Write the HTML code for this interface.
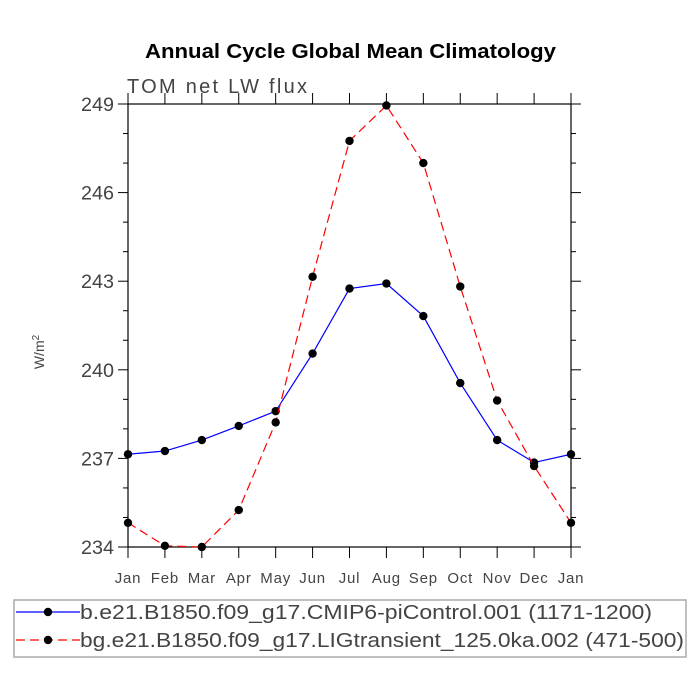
<!DOCTYPE html>
<html><head><meta charset="utf-8"><style>body{margin:0;background:#fff}svg{display:block}</style></head>
<body>
<svg id="c" width="700" height="700" xmlns="http://www.w3.org/2000/svg" font-family="Liberation Sans, sans-serif"></svg>
<script>
const months = ["Jan","Feb","Mar","Apr","May","Jun","Jul","Aug","Sep","Oct","Nov","Dec","Jan"];
const yTicks = [234,237,240,243,246,249];
const piControl = [237.14,237.25,237.62,238.1,238.6,240.55,242.75,242.92,241.82,239.55,237.62,236.86,237.14];
const ligTransient = [234.82,234.04,234.0,235.25,238.22,243.15,247.75,248.95,247.0,242.82,238.96,236.74,234.82];
const legendLabels = ["b.e21.B1850.f09_g17.CMIP6-piControl.001 (1171-1200)","bg.e21.B1850.f09_g17.LIGtransient_125.0ka.002 (471-500)"];
const legendWidths = [572,604];

const svg = document.getElementById('c');
const NS = "http://www.w3.org/2000/svg";
const X0=128, X1=571, Y0=547, Y1=104, YMIN=234, YMAX=249;
const xs = i => X0 + (X1-X0)*i/(months.length-1);
const ys = v => Y0 - (v-YMIN)/(YMAX-YMIN)*(Y0-Y1);
function mk(tag, attrs, parent){const e=document.createElementNS(NS,tag);for(const k in attrs)e.setAttribute(k,attrs[k]);(parent||svg).appendChild(e);return e;}

let t = mk('text',{x:145,y:58,'font-size':20,'font-weight':'bold',fill:'#000',textLength:411,lengthAdjust:'spacingAndGlyphs'});
t.textContent='Annual Cycle Global Mean Climatology';


t = mk('text',{x:127,y:93,'font-size':20,fill:'#444',textLength:180,lengthAdjust:'spacing'});
t.textContent='TOM  net  LW  flux';



let frame = mk('rect',{x:X0,y:Y1,width:X1-X0,height:Y0-Y1,fill:'none',stroke:'#000','stroke-width':1.2});



yTicks.forEach(v=>{
  const y=ys(v);
  mk('line',{x1:X0-10,x2:X0,y1:y,y2:y,stroke:'#000'});
  mk('line',{x1:X1,x2:X1+10,y1:y,y2:y,stroke:'#000'});
  const l=mk('text',{x:X0-14,y:y+7,'text-anchor':'end','font-size':19,fill:'#444',textLength:33,lengthAdjust:'spacingAndGlyphs'});
  l.textContent=v;
  
  
});
for(let v=YMIN; v<=YMAX; v+=1){ if((v-YMIN)%3===0) continue; const y=ys(v);
  mk('line',{x1:X0-5,x2:X0,y1:y,y2:y,stroke:'#000'});
  mk('line',{x1:X1,x2:X1+5,y1:y,y2:y,stroke:'#000'});
}
months.forEach((m,i)=>{
  const x=xs(i);
  mk('line',{x1:x,x2:x,y1:Y0,y2:Y0+11,stroke:'#000'});
  mk('line',{x1:x,x2:x,y1:Y1-11,y2:Y1,stroke:'#000'});
  const l=mk('text',{x:x,y:583,'text-anchor':'middle','font-size':15,fill:'#444','letter-spacing':'0.8'});
  l.textContent=m;
  
  
});
t = mk('text',{x:0,y:0,'font-size':14,fill:'#444',transform:'translate(44,352) rotate(-90)','text-anchor':'middle'});
t.innerHTML='W/m<tspan font-size="10" dy="-5">2</tspan>';



function series(vals,color,dash,name){
  const g=mk('g',{});
  
  
  mk('polyline',{points:vals.map((v,i)=>xs(i)+','+ys(v)).join(' '),fill:'none',stroke:color,'stroke-width':1.2,'stroke-dasharray':dash},g);
  vals.forEach((v,i)=>{const c=mk('circle',{cx:xs(i),cy:ys(v),r:4.2,fill:'#000'},g);
    
    });
}
series(piControl,'#0000ff','none','series-picontrol');
series(ligTransient,'#ff0000','9 5','series-ligtransient');

const lg=mk('g',{});


mk('rect',{x:14,y:600,width:672,height:57,fill:'#fff',stroke:'#aaa','stroke-width':1.5},lg);
[['#0000ff','none'],['#ff0000','9 5']].forEach((s,i)=>{
  const y=612+i*28;
  mk('line',{x1:16,x2:80,y1:y,y2:y,stroke:s[0],'stroke-width':1.2,'stroke-dasharray':s[1]},lg);
  mk('circle',{cx:48,cy:y,r:4.2,fill:'#000'},lg);
  const l=mk('text',{x:80,y:y+7,'font-size':20,fill:'#444',textLength:legendWidths[i],lengthAdjust:'spacingAndGlyphs'},lg);
  l.textContent=legendLabels[i];
  
  
});
</script>
</body></html>
